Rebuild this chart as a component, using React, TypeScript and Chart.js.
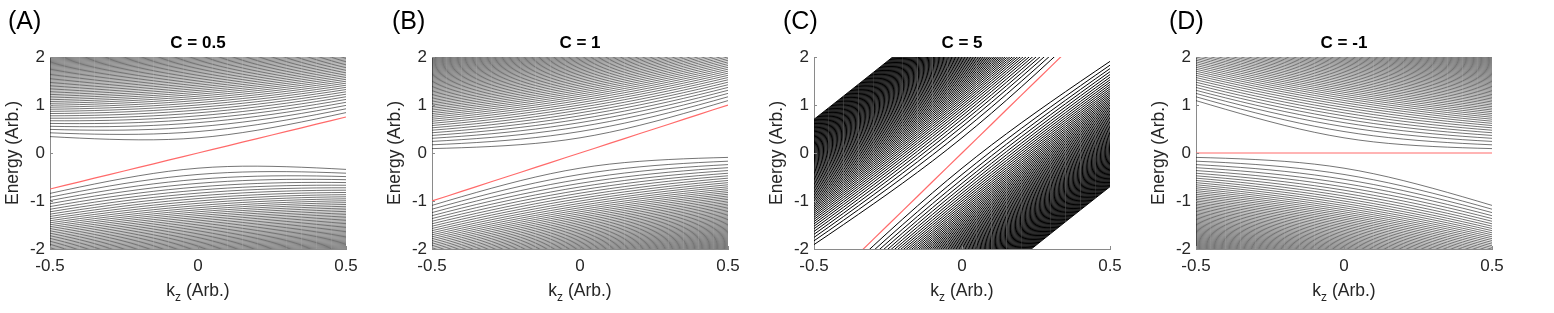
import React, { useEffect, useRef } from 'react';
import { Chart, registerables } from 'chart.js';

Chart.register(...registerables);

// ---- data ----
const PANEL_LABELS = ['(A)', '(B)', '(C)', '(D)'];
const PANEL_TITLES = ['C = 0.5', 'C = 1', 'C = 5', 'C = -1'];
const TILTS = [0.5, 1, 5, -1];
const KZ_TICKS = [-0.5, 0, 0.5];
const ENERGY_TICKS = [-2, -1, 0, 1, 2];
const KZ_SAMPLES = [
  -0.5, -0.45, -0.4, -0.35, -0.3, -0.25, -0.2, -0.15, -0.1, -0.05, 0,
  0.05, 0.1, 0.15, 0.2, 0.25, 0.3, 0.35, 0.4, 0.45, 0.5,
];
// Landau levels: gap^2 grows by this step per level index (lowest gap ~0.32)
const LANDAU_LEVEL_COUNT = 100;
const GAP_SQ_PER_LEVEL = 0.1;

// ---- layout / style (not data) ----
const PANEL_WIDTH = 382;
const HEIGHT = 313;
const LABEL_X = [8, 10, 19, 23];
const LINE_WIDTHS = [0.55, 0.55, 1.0, 0.55];
const LINE_COLORS = ['#000', '#000', '#000', '#000'];
const FONT = '"Liberation Sans", Arial, Helvetica, sans-serif';

type Pt = { x: number; y: number };

function bandLine(tilt: number, level: number, sign: number): Pt[] {
  return KZ_SAMPLES.map((kz) => ({
    x: kz,
    y: tilt * kz + sign * Math.sqrt(kz * kz + GAP_SQ_PER_LEVEL * level),
  }));
}

function chiralLine(tilt: number): Pt[] {
  return KZ_SAMPLES.map((kz) => ({ x: kz, y: (tilt + 1) * kz }));
}

function visible(pts: Pt[]) {
  const allAbove = pts.every((p) => p.y > 2.05);
  const allBelow = pts.every((p) => p.y < -2.05);
  return !allAbove && !allBelow;
}

const decorPlugin = {
  id: 'decor',
  afterDraw(chart: any, _args: any, opts: any) {
    const { ctx, chartArea: a, scales } = chart;
    ctx.save();
    // inward tick marks
    ctx.strokeStyle = '#8a8a8a';
    ctx.lineWidth = 1;
    ENERGY_TICKS.forEach((v) => {
      const y = Math.round(scales.y.getPixelForValue(v)) + 0.5;
      ctx.beginPath();
      ctx.moveTo(a.left, y);
      ctx.lineTo(a.left + 3, y);
      ctx.stroke();
    });
    KZ_TICKS.forEach((v) => {
      const x = Math.round(scales.x.getPixelForValue(v)) + 0.5;
      ctx.beginPath();
      ctx.moveTo(x, a.bottom);
      ctx.lineTo(x, a.bottom - 3);
      ctx.stroke();
    });

    const cx = (a.left + a.right) / 2;
    // title
    ctx.fillStyle = '#000';
    ctx.font = `bold 17px ${FONT}`;
    ctx.textAlign = 'center';
    ctx.textBaseline = 'alphabetic';
    ctx.fillText(opts.title, cx, 48);

    // y-axis title
    ctx.fillStyle = '#262626';
    ctx.font = `17.5px ${FONT}`;
    ctx.save();
    ctx.translate(a.left - 37, (a.top + a.bottom) / 2);
    ctx.rotate(-Math.PI / 2);
    ctx.textAlign = 'center';
    ctx.textBaseline = 'middle';
    ctx.fillText('Energy (Arb.)', 0, 0);
    ctx.restore();

    // x-axis title with subscript
    const big = `17.5px ${FONT}`;
    const small = `12px ${FONT}`;
    ctx.textAlign = 'left';
    ctx.textBaseline = 'alphabetic';
    ctx.font = big;
    const wk = ctx.measureText('k').width;
    const wr = ctx.measureText(' (Arb.)').width;
    ctx.font = small;
    const wz = ctx.measureText('z').width;
    let x0 = cx - (wk + wz + wr) / 2;
    const base = 296;
    ctx.font = big;
    ctx.fillText('k', x0, base);
    x0 += wk;
    ctx.font = small;
    ctx.fillText('z', x0, base + 5);
    x0 += wz;
    ctx.font = big;
    ctx.fillText(' (Arb.)', x0, base);

    // panel label
    ctx.fillStyle = '#000';
    ctx.font = `25px ${FONT}`;
    ctx.fillText(opts.label, opts.labelX, 29);
    ctx.restore();
  },
};

function Panel({ index }: { index: number }) {
  const ref = useRef<HTMLCanvasElement>(null);
  useEffect(() => {
    const canvas = ref.current;
    if (!canvas) return;
    const tilt = TILTS[index];
    const datasets: any[] = [];
    datasets.push({
      data: chiralLine(tilt),
      borderColor: '#ff6a6a',
      borderWidth: 1.2,
      pointRadius: 0,
      fill: false,
    });
    for (let n = 1; n <= LANDAU_LEVEL_COUNT; n++) {
      for (const sign of [1, -1]) {
        const pts = bandLine(tilt, n, sign);
        if (!visible(pts)) continue;
        datasets.push({
          data: pts,
          borderColor: LINE_COLORS[index],
          borderWidth: LINE_WIDTHS[index],
          pointRadius: 0,
          fill: false,
          cubicInterpolationMode: 'monotone',
        });
      }
    }
    const chart = new Chart(canvas, {
      type: 'line',
      data: { datasets },
      options: {
        animation: false,
        responsive: false,
        devicePixelRatio: 1,
        parsing: false,
        normalized: true,
        events: [],
        layout: { padding: { top: 57, right: 36, left: 0, bottom: 0 } },
        plugins: {
          legend: { display: false },
          tooltip: { enabled: false },
          title: { display: false },
          decor: {
            title: PANEL_TITLES[index],
            label: PANEL_LABELS[index],
            labelX: LABEL_X[index],
          },
        } as any,
        scales: {
          x: {
            type: 'linear',
            min: -0.5,
            max: 0.5,
            grid: { display: false, drawTicks: false },
            border: { display: true, color: '#8a8a8a', width: 1 },
            afterBuildTicks: (s: any) => {
              s.ticks = KZ_TICKS.map((v) => ({ value: v }));
            },
            afterFit: (s: any) => {
              s.height = 64;
            },
            ticks: {
              color: '#262626',
              font: { family: FONT, size: 17 },
              padding: 7,
              maxRotation: 0,
              autoSkip: false,
              callback: (v: any) => String(v),
            },
          },
          y: {
            type: 'linear',
            min: -2,
            max: 2,
            grid: { display: false, drawTicks: false },
            border: { display: true, color: '#8a8a8a', width: 1 },
            afterBuildTicks: (s: any) => {
              s.ticks = ENERGY_TICKS.map((v) => ({ value: v }));
            },
            afterFit: (s: any) => {
              s.width = 50;
            },
            ticks: {
              color: '#262626',
              font: { family: FONT, size: 17 },
              padding: 5,
              autoSkip: false,
              callback: (v: any) => String(v),
            },
          },
        },
      },
      plugins: [decorPlugin],
    });
    return () => chart.destroy();
  }, [index]);

  return (
    <canvas
      ref={ref}
      width={PANEL_WIDTH}
      height={HEIGHT}
      style={{
        position: 'absolute',
        left: index * PANEL_WIDTH,
        top: 0,
        width: PANEL_WIDTH,
        height: HEIGHT,
      }}
    />
  );
}

export default function App() {
  return (
    <div
      style={{
        position: 'absolute',
        left: 0,
        top: 0,
        width: 1554,
        height: HEIGHT,
        background: '#fff',
        overflow: 'hidden',
      }}
    >
      {PANEL_TITLES.map((_, i) => (
        <Panel key={i} index={i} />
      ))}
    </div>
  );
}
